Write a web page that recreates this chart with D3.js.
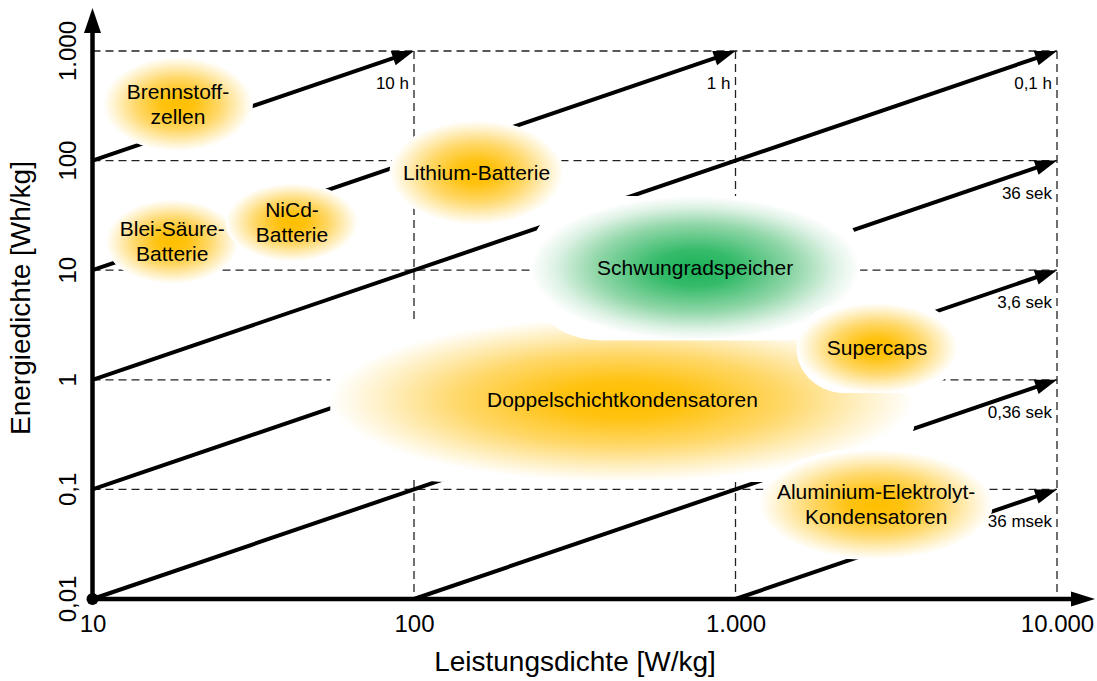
<!DOCTYPE html>
<html>
<head>
<meta charset="utf-8">
<script src="https://cdn.jsdelivr.net/npm/d3@7"></script>
<style>
  html, body { margin: 0; padding: 0; background: #fff; }
  svg { display: block; font-family: "Liberation Sans", Arial, sans-serif; }
</style>
</head>
<body>
<svg id="chart" width="1097" height="681"></svg>
<script>
// Tick positions and their German-formatted labels
const powerTicks = [10, 100, 1000, 10000];
const powerTickLabels = ["10", "100", "1.000", "10.000"];
const energyTicks = [0.01, 0.1, 1, 10, 100, 1000];
const energyTickLabels = ["0,01", "0,1", "1", "10", "100", "1.000"];

// Lines of constant discharge time, E = P * t (t in hours)
const timeHours = [10, 1, 0.1, 0.01, 0.001, 0.0001, 0.00001];
const timeLabels = ["10 h", "1 h", "0,1 h", "36 sek", "3,6 sek", "0,36 sek", "36 msek"];

// Storage technologies: power density range [W/kg], energy density range [Wh/kg]
const techNames = [
  "Brennstoff-\nzellen",
  "Blei-Säure-\nBatterie",
  "NiCd-\nBatterie",
  "Lithium-Batterie",
  "Doppelschichtkondensatoren",
  "Schwungradspeicher",
  "Supercaps",
  "Aluminium-Elektrolyt-\nKondensatoren"
];
const techPower = [[10.8, 31.5], [11, 28.5], [26, 67], [84, 292], [55, 3600], [230, 2440], [1550, 4900], [1190, 6300]];
const techEnergy = [[122, 880], [7.5, 44], [12, 62], [26, 232], [0.117, 3.7], [2.3, 47.5], [0.76, 5.0], [0.023, 0.23]];
const techKind = ["chem", "chem", "chem", "chem", "chem", "mech", "chem", "chem"];

// Corner rounding of each region (fraction of half width / half height)
const cornerStyle = [[1, 1], [1, 1], [1, 1], [1, 1], [0.41, 0.73], [0.42, 0.83], [0.6, 1], [0.85, 1]];

const svg = d3.select("#chart");

const x = d3.scaleLog().domain([10, 10000]).range([92.5, 1057]);
const y = d3.scaleLog().domain([0.01, 1000]).range([599, 51]);
const [pMin, pMax] = x.domain();
const [eMin, eMax] = y.domain();

// Soft radial fills
const defs = svg.append("defs");
function radial(id, stops) {
  const g = defs.append("radialGradient").attr("id", id)
    .attr("cx", 0.5).attr("cy", 0.5).attr("r", 0.5);
  stops.forEach(([o, c]) => g.append("stop").attr("offset", o).attr("stop-color", c));
}
radial("fill-chem", [[0, "#ffbf00"], [0.22, "#ffc20f"], [0.55, "#ffd766"], [0.82, "#fff0c4"], [1, "#ffffff"]]);
radial("fill-mech", [[0, "#1db35a"], [0.25, "#35bb6a"], [0.6, "#8fd6a7"], [0.85, "#def2e5"], [1, "#ffffff"]]);

// Dashed decade grid
const grid = svg.append("g").attr("stroke", "#222").attr("stroke-width", 1.3)
  .attr("stroke-dasharray", "8,5").attr("fill", "none");
grid.selectAll("line.h").data(energyTicks.slice(1)).join("line").attr("class", "h")
  .attr("x1", x(pMin)).attr("x2", x(pMax))
  .attr("y1", d => y(d)).attr("y2", d => y(d));
grid.selectAll("line.v").data(powerTicks.slice(1)).join("line").attr("class", "v")
  .attr("x1", d => x(d)).attr("x2", d => x(d))
  .attr("y1", y(eMax)).attr("y2", y(eMin));

// Discharge-time lines with arrowheads
const timeLines = timeHours.map((t, i) => {
  const p0 = Math.max(pMin, eMin / t);
  const p1 = Math.min(pMax, eMax / t);
  return { t, label: timeLabels[i], p0, e0: p0 * t, p1, e1: p1 * t };
});
const arrowLen = 22, arrowHalf = 7.5;
const tl = svg.append("g");
timeLines.forEach(d => {
  const x0 = x(d.p0), y0 = y(d.e0), x1 = x(d.p1), y1 = y(d.e1);
  const len = Math.hypot(x1 - x0, y1 - y0);
  const ux = (x1 - x0) / len, uy = (y1 - y0) / len;
  tl.append("line")
    .attr("x1", x0).attr("y1", y0)
    .attr("x2", x1 - ux * (arrowLen - 4)).attr("y2", y1 - uy * (arrowLen - 4))
    .attr("stroke", "#000").attr("stroke-width", 4);
  const bx = x1 - ux * arrowLen, by = y1 - uy * arrowLen;
  tl.append("path")
    .attr("d", `M${x1},${y1}L${bx - uy * arrowHalf},${by + ux * arrowHalf}L${bx + uy * arrowHalf},${by - ux * arrowHalf}Z`)
    .attr("fill", "#000");
});

// Technology regions: opaque white body with a soft coloured core
const regions = svg.append("g");
techNames.forEach((name, i) => {
  const xa = x(techPower[i][0]), xb = x(techPower[i][1]);
  const ya = y(techEnergy[i][1]), yb = y(techEnergy[i][0]);
  const w = xb - xa, h = yb - ya;
  ["#fff", `url(#fill-${techKind[i]})`].forEach(fill => {
    regions.append("rect")
      .attr("x", xa).attr("y", ya).attr("width", w).attr("height", h)
      .attr("rx", cornerStyle[i][0] * w / 2).attr("ry", cornerStyle[i][1] * h / 2)
      .attr("fill", fill);
  });
});

// Region labels
techNames.forEach((name, i) => {
  const cx = x(Math.sqrt(techPower[i][0] * techPower[i][1]));
  const cy = y(Math.sqrt(techEnergy[i][0] * techEnergy[i][1]));
  const lines = name.split("\n");
  const lh = 25;
  const t = svg.append("text").attr("text-anchor", "middle")
    .attr("font-size", 21).attr("fill", "#000");
  lines.forEach((ln, k) => {
    t.append("tspan").attr("x", cx)
      .attr("y", cy + (k - (lines.length - 1) / 2) * lh + 7)
      .text(ln);
  });
});

// Discharge-time labels below each arrow tip
svg.append("g").selectAll("text").data(timeLines).join("text")
  .attr("x", d => x(d.p1) - 5)
  .attr("y", d => y(d.e1) + 38)
  .attr("text-anchor", "end")
  .attr("font-size", 17)
  .text(d => d.label);

// Axes with arrows
const ax = svg.append("g");
const ox = x(pMin), oy = y(eMin);
ax.append("line").attr("x1", ox).attr("y1", oy).attr("x2", ox).attr("y2", 30)
  .attr("stroke", "#000").attr("stroke-width", 4.5);
ax.append("path").attr("d", `M${ox},8L${ox + 8.5},33L${ox - 8.5},33Z`).attr("fill", "#000");
ax.append("line").attr("x1", ox).attr("y1", oy).attr("x2", 1072).attr("y2", oy)
  .attr("stroke", "#000").attr("stroke-width", 4.5);
ax.append("path").attr("d", `M1095,${oy}L1071,${oy - 7.5}L1071,${oy + 7.5}Z`).attr("fill", "#000");
ax.append("circle").attr("cx", ox).attr("cy", oy).attr("r", 6).attr("fill", "#000");

// Tick labels
const xAxis = d3.axisBottom(x).tickValues(powerTicks)
  .tickFormat((d, i) => powerTickLabels[i]).tickSize(0).tickPadding(16);
const gx = svg.append("g").attr("transform", `translate(0,${oy})`).call(xAxis);
gx.select(".domain").remove();
gx.selectAll("text").attr("font-size", 24).attr("font-family", "Liberation Sans, Arial, sans-serif").attr("fill", "#000");

svg.append("g").selectAll("text").data(energyTicks).join("text")
  .attr("transform", d => `translate(76,${y(d)}) rotate(-90)`)
  .attr("text-anchor", "middle")
  .attr("font-size", 24)
  .text((d, i) => energyTickLabels[i]);

// Axis titles
svg.append("text").attr("x", 575).attr("y", 671).attr("text-anchor", "middle")
  .attr("font-size", 28).text("Leistungsdichte [W/kg]");
svg.append("text").attr("transform", "translate(30,298) rotate(-90)")
  .attr("text-anchor", "middle").attr("font-size", 28).text("Energiedichte [Wh/kg]");
</script>
</body>
</html>
